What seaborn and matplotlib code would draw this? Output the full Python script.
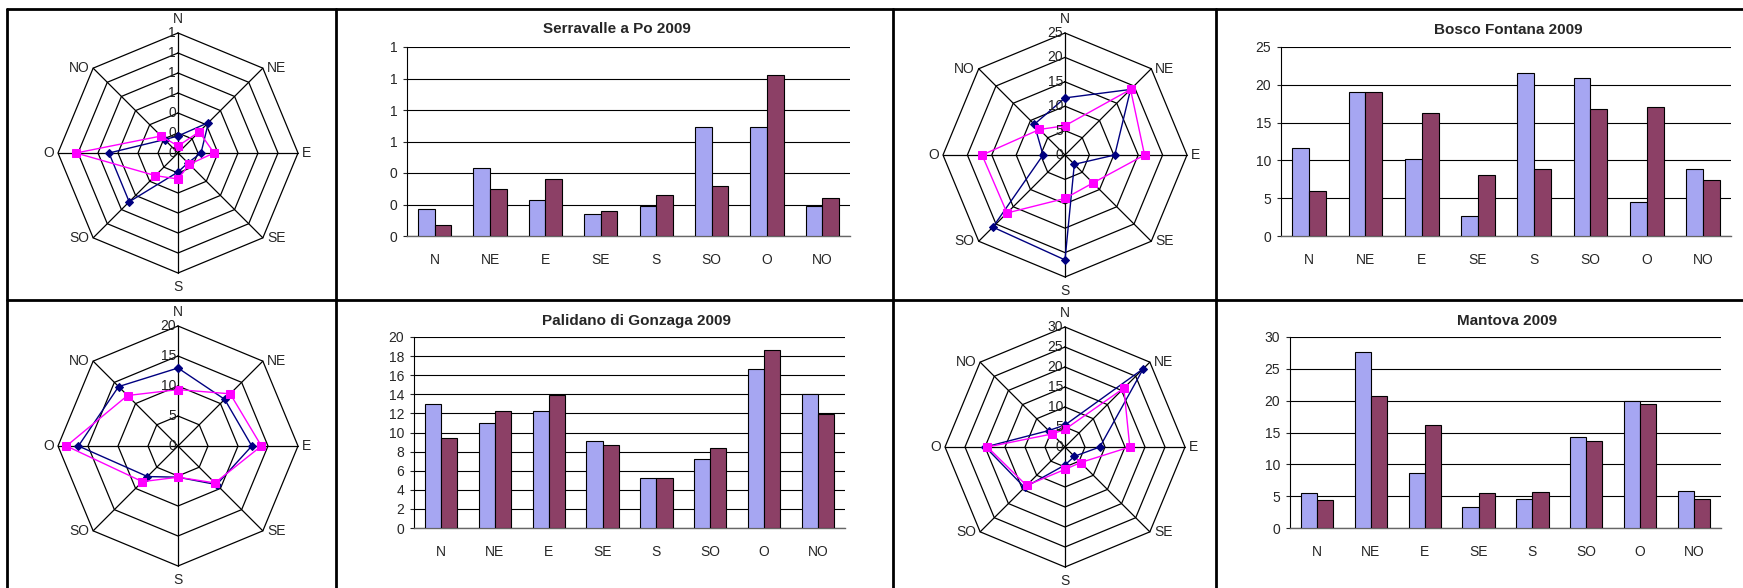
import matplotlib
matplotlib.use('Agg')
import matplotlib.pyplot as plt
from matplotlib.lines import Line2D
import seaborn as sns
import numpy as np
import pandas as pd

# wind directions (Italian)
directions = ['N', 'NE', 'E', 'SE', 'S', 'SO', 'O', 'NO']

# values: blue series / purple series
serravalle_blue = [0.17, 0.43, 0.23, 0.14, 0.19, 0.69, 0.69, 0.19]
serravalle_red = [0.07, 0.30, 0.36, 0.16, 0.26, 0.32, 1.02, 0.24]
bosco_blue = [11.7, 19.0, 10.2, 2.7, 21.5, 20.9, 4.5, 8.9]
bosco_red = [6.0, 19.0, 16.3, 8.1, 8.9, 16.8, 17.0, 7.4]
palidano_blue = [13.0, 11.0, 12.3, 9.1, 5.2, 7.2, 16.6, 14.0]
palidano_red = [9.4, 12.3, 13.9, 8.7, 5.2, 8.4, 18.6, 11.9]
mantova_blue = [5.5, 27.7, 8.7, 3.3, 4.5, 14.3, 19.9, 5.8]
mantova_red = [4.4, 20.8, 16.2, 5.5, 5.6, 13.6, 19.4, 4.6]

titles = ['Serravalle a Po 2009', 'Palidano di Gonzaga 2009',
          'Bosco Fontana 2009', 'Mantova 2009']

W, H = 1743, 588
BAR_COLORS = ['#9999FF', '#993366']

sns.set_style('white')
plt.rcParams['font.family'] = ['Liberation Sans', 'DejaVu Sans']

fig = plt.figure(figsize=(W / 100, H / 100), dpi=100)


def px_axes(left, top, right, bottom):
    return fig.add_axes([left / W, 1 - bottom / H, (right - left) / W, (bottom - top) / H])


def radar(cx, cy, R, blue, red, rmax, step, fmt):
    h = 150
    ax = px_axes(cx - h, cy - h, cx + h, cy + h)
    ax.set_xlim(-h / R, h / R)
    ax.set_ylim(-h / R, h / R)
    ax.axis('off')
    ang = np.arange(8) * np.pi / 4
    closed = np.append(ang, ang[0])
    levels = np.arange(0, rmax + step / 2, step)
    # octagon rings and spokes
    for lv in levels[1:]:
        r = lv / rmax
        ax.plot(r * np.sin(closed), r * np.cos(closed), color='black', lw=0.9, zorder=1)
    for a in ang:
        ax.plot([0, np.sin(a)], [0, np.cos(a)], color='black', lw=0.9, zorder=1)
    # radial labels along N axis
    for lv in levels:
        ax.text(-2 / R, lv / rmax, fmt.format(lv), ha='right', va='center',
                fontsize=10, color='#222222', zorder=4)
    # direction labels
    for a, d in zip(ang, directions):
        sx, sy = np.sin(a), np.cos(a)
        if d in ('N', 'S'):
            ax.text(0, sy * (1 + 14 / R), d, ha='center', va='center', fontsize=10)
        else:
            ha = 'left' if sx > 0 else 'right'
            ax.text(sx + np.sign(sx) * 4 / R, sy, d, ha=ha, va='center', fontsize=10)
    # series
    for vals, col, mk, ms in [(blue, '#000080', 'D', 4.5), (red, '#FF00FF', 's', 5.5)]:
        r = np.append(np.array(vals), vals[0]) / rmax
        sns.lineplot(x=r * np.sin(closed), y=r * np.cos(closed), sort=False, estimator=None,
                     color=col, lw=1.0, marker=mk, markersize=ms, markeredgecolor=col,
                     ax=ax, zorder=3)
    ax.set_aspect('equal')


def bars(left, top, right, bottom, blue, red, ymax, step, fmt, title, tx, ty):
    ax = px_axes(left, top, right, bottom)
    df = pd.DataFrame({'dir': directions * 2, 'value': blue + red,
                       'serie': ['a'] * 8 + ['b'] * 8})
    sns.barplot(data=df, x='dir', y='value', hue='serie', palette=BAR_COLORS,
                edgecolor='black', linewidth=0.8, width=0.6, legend=False, ax=ax, zorder=3)
    ax.set_xlim(-0.5, 7.5)
    ax.set_ylim(0, ymax)
    ticks = np.arange(0, ymax + step / 2, step)
    ax.set_yticks(ticks)
    ax.set_yticklabels([fmt.format(t) for t in ticks])
    ax.set_xticks(np.arange(-0.5, 8, 1), minor=True)
    ax.tick_params(axis='x', which='major', length=0, pad=12, labelsize=10)
    ax.tick_params(axis='x', which='minor', length=4, width=0.8, direction='out', color='#555555')
    ax.tick_params(axis='y', length=3, width=0.8, direction='out', pad=4, labelsize=10, left=True)
    ax.yaxis.grid(True, color='black', lw=0.8)
    ax.set_axisbelow(True)
    ax.set_xlabel('')
    ax.set_ylabel('')
    for s in ['top', 'right']:
        ax.spines[s].set_visible(False)
    ax.spines['left'].set_color('black')
    ax.spines['left'].set_linewidth(0.8)
    ax.spines['bottom'].set_color('#666666')
    ax.spines['bottom'].set_linewidth(1.0)
    fig.text(tx / W, 1 - ty / H, title, ha='center', va='center', fontsize=11,
             fontweight='bold')


radar(178, 153, 120, serravalle_blue, serravalle_red, 1.2, 0.2, '{:.0f}')
radar(178, 446, 120, palidano_blue, palidano_red, 20, 5, '{:.0f}')
radar(1065, 155, 122, bosco_blue, bosco_red, 25, 5, '{:.0f}')
radar(1065, 447, 120, mantova_blue, mantova_red, 30, 5, '{:.0f}')

bars(407, 47, 850, 236, serravalle_blue, serravalle_red, 1.2, 0.2, '{:.0f}', titles[0], 617, 29)
bars(414, 337, 845, 528, palidano_blue, palidano_red, 20, 2, '{:.0f}', titles[1], 636, 321)
bars(1281, 47, 1731, 236, bosco_blue, bosco_red, 25, 5, '{:.0f}', titles[2], 1508, 30)
bars(1290, 337, 1721, 528, mantova_blue, mantova_red, 30, 5, '{:.0f}', titles[3], 1507, 321)

# table frame around the panels
for x in [7, 336, 893, 1216]:
    fig.add_artist(Line2D([x / W, x / W], [1 - 9 / H, 0], color='black', lw=2))
for y in [9, 300]:
    fig.add_artist(Line2D([7 / W, 1], [1 - y / H, 1 - y / H], color='black', lw=2))

fig.savefig('out.png', dpi=100)
